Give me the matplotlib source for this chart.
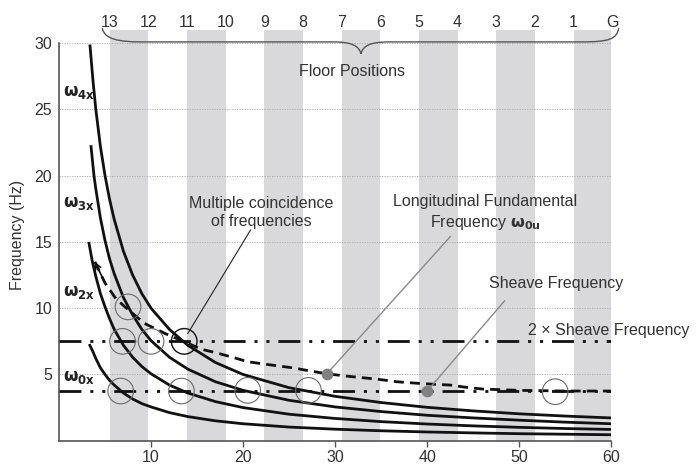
import matplotlib
matplotlib.use("Agg")
import matplotlib.pyplot as plt
from matplotlib.path import Path
from matplotlib.patches import PathPatch

plt.rcParams['font.family'] = ['Liberation Sans', 'DejaVu Sans']
plt.rcParams['mathtext.fontset'] = 'dejavusans'

TXT = '#333333'

# --- data ---
floor_labels = ['13', '12', '11', '10', '9', '8', '7', '6', '5', '4', '3', '2', '1', 'G']
floor_pos = [5.5, 9.7, 13.9, 18.1, 22.3, 26.5, 30.7, 34.9, 39.1, 43.3, 47.5, 51.7, 55.9, 60.1]

w4x_x = [3.37, 3.7, 4, 4.5, 5, 5.5, 6, 7, 8, 9, 10, 12, 14, 17, 20, 25, 30, 35, 40, 45, 50, 55, 60]
w4x_y = [29.8, 27.1, 25.0, 22.2, 20.0, 18.2, 16.7, 14.3, 12.5, 11.1, 10.0, 8.4, 7.2, 5.9, 5.0, 4.0, 3.35, 2.88, 2.52, 2.25, 2.03, 1.86, 1.72]

w3x_x = [3.48, 3.8, 4, 4.5, 5, 5.5, 6, 7, 8, 9, 10, 12, 14, 17, 20, 25, 30, 35, 40, 45, 50, 55, 60]
w3x_y = [22.2, 20.0, 19.0, 16.8, 15.1, 13.7, 12.6, 10.8, 9.5, 8.4, 7.55, 6.3, 5.4, 4.45, 3.8, 3.05, 2.55, 2.2, 1.92, 1.72, 1.55, 1.4, 1.28]

w2x_x = [3.26, 3.6, 4, 4.5, 5, 5.5, 6, 7, 8, 9, 10, 12, 14, 17, 20, 25, 30, 35, 40, 45, 50, 55, 60]
w2x_y = [14.9, 13.6, 12.4, 11.1, 10.1, 9.2, 8.4, 7.2, 6.3, 5.6, 5.05, 4.2, 3.6, 2.95, 2.5, 2.0, 1.68, 1.44, 1.26, 1.12, 1.01, 0.92, 0.85]

w0x_x = [3.35, 3.7, 4, 4.5, 5, 5.5, 6, 7, 8, 9, 10, 12, 14, 17, 20, 25, 30, 35, 40, 45, 50, 55, 60]
w0x_y = [7.2, 6.7, 6.2, 5.5, 5.0, 4.55, 4.2, 3.6, 3.15, 2.8, 2.55, 2.12, 1.82, 1.5, 1.28, 1.03, 0.87, 0.75, 0.66, 0.59, 0.53, 0.49, 0.45]

w0u_x = [3.9, 5.0, 6.2, 7.5, 9.3, 11.5, 13.5, 15.5, 17, 19.1, 20.5, 23, 25.4, 27, 29.1, 31.6, 34.5, 36.7, 39.2, 42.5, 44, 46, 50, 55, 60]
w0u_y = [13.5, 11.9, 10.7, 9.9, 8.85, 8.1, 7.5, 6.9, 6.65, 6.25, 5.96, 5.72, 5.5, 5.3, 5.05, 4.85, 4.65, 4.45, 4.32, 4.2, 4.05, 3.9, 3.8, 3.75, 3.75]

sheave = 3.75
sheave2 = 7.5

circ_x = [7.5, 6.9, 10.0, 6.7, 13.3, 20.5, 27.1, 53.9]
circ_y = [10.1, 7.5, 7.5, 3.75, 3.75, 3.8, 3.8, 3.7]
coinc_x, coinc_y = 13.6, 7.5

dot_x = [29.1, 40.0]
dot_y = [5.05, 3.75]

fig = plt.figure(figsize=(7.0, 4.68), dpi=100)
ax = fig.add_axes([0.0843, 0.0583, 0.789, 0.8776])
ax.set_xlim(0, 60)
ax.set_ylim(0, 31)

# floor bands
for i in range(0, len(floor_pos) - 1, 2):
    ax.axvspan(floor_pos[i], floor_pos[i + 1], ymin=0, ymax=1, color='#d9d9db', lw=0, zorder=0)

# dotted grid
for yv in [5, 10, 15, 20, 25, 30]:
    ax.plot([0, 60], [yv, yv], color='#a8a8a8', lw=0.6, ls=(0, (1.5, 1.5)), zorder=1)

# sheave lines
dd = (0, (7.9, 3.2, 1.1, 3.2, 1.1, 3.2))
ax.plot([0, 60], [sheave2, sheave2], color='#111111', lw=2, ls=dd, zorder=3)
ax.plot([0, 60], [sheave, sheave], color='#111111', lw=2, ls=dd, zorder=3)

# mode curves
for xs, ys in [(w4x_x, w4x_y), (w3x_x, w3x_y), (w2x_x, w2x_y), (w0x_x, w0x_y)]:
    ax.plot(xs, ys, color='#111111', lw=2, zorder=4)
ax.plot(w0u_x, w0u_y, color='#111111', lw=2, ls=(0, (3.6, 2.2)), zorder=4)
ax.annotate('', xy=(w0u_x[0], w0u_y[0]), xytext=(w0u_x[1], w0u_y[1]),
            arrowprops=dict(arrowstyle='->', color='#111111', lw=1.2, shrinkA=0, shrinkB=0), zorder=4)

# coincidence circles and markers
ax.scatter(circ_x, circ_y, s=340, facecolors='none', edgecolors='#6a6a6a', linewidths=0.8, zorder=5)
ax.scatter([coinc_x], [coinc_y], s=340, facecolors='none', edgecolors='#111111', linewidths=1.0, zorder=5)
ax.scatter(dot_x, dot_y, s=55, color='#808080', zorder=6)

# spines / ticks
for s in ['top', 'right']:
    ax.spines[s].set_visible(False)
ax.spines['left'].set_bounds(0, 30)
ax.spines['left'].set_color('#555555')
ax.spines['bottom'].set_color('#555555')
ax.spines['left'].set_linewidth(1.2)
ax.spines['bottom'].set_linewidth(1.2)
ax.set_xticks([10, 20, 30, 40, 50, 60])
ax.set_yticks([5, 10, 15, 20, 25, 30])
ax.tick_params(axis='x', length=4, width=1, color='#555555', pad=3, labelsize=11.5, labelcolor=TXT)
ax.tick_params(axis='y', length=0, pad=5, labelsize=11.5, labelcolor=TXT)
fig.text(18 / 700, 1 - 235 / 468, 'Frequency (Hz)', rotation=90, ha='center', va='center',
         fontsize=11.5, color=TXT)

# floor labels + brace
for xp, lab in zip(floor_pos, floor_labels):
    ax.text(xp, 31.6, lab, ha='center', va='center', fontsize=11.5, color=TXT, clip_on=False)
x0, x1 = floor_pos[0], floor_pos[-1]
xm = (x0 + x1) / 2
yb = 30.1
verts = [(x0 - 0.8, 31.15), (x0 - 0.6, 30.3), (x0 + 1.0, yb), (x0 + 3.5, yb),
         (xm - 3.0, yb), (xm - 1.0, yb), (xm - 0.2, 29.8), (xm, 29.2),
         (xm + 0.2, 29.8), (xm + 1.0, yb), (xm + 3.0, yb),
         (x1 - 3.5, yb), (x1 - 0.3, yb), (x1 + 0.5, 30.3), (x1 + 0.7, 31.15)]
codes = [Path.MOVETO, Path.CURVE4, Path.CURVE4, Path.CURVE4,
         Path.LINETO, Path.CURVE4, Path.CURVE4, Path.CURVE4,
         Path.CURVE4, Path.CURVE4, Path.CURVE4,
         Path.LINETO, Path.CURVE4, Path.CURVE4, Path.CURVE4]
ax.add_patch(PathPatch(Path(verts, codes), fill=False, edgecolor='#555555', lw=1.0, clip_on=False, zorder=6))
ax.text(31.8, 27.9, 'Floor Positions', ha='center', va='center', fontsize=11.5, color=TXT)

# mode labels
for yv, lab in [(26.3, '4x'), (17.9, '3x'), (11.2, '2x'), (4.8, '0x')]:
    ax.text(0.45, yv, r'$\mathbf{\omega}_{\mathbf{%s}}$' % lab, ha='left', va='center',
            fontsize=12, color='#222222')

# annotations
ax.text(22.0, 17.2, 'Multiple coincidence\nof frequencies', ha='center', va='center',
        fontsize=11.5, color=TXT, linespacing=1.25)
ax.plot([20.8, 14.0], [15.9, 8.1], color='#222222', lw=0.8, zorder=5)

ax.text(46.3, 17.2, 'Longitudinal Fundamental\nFrequency ' + r'$\mathbf{\omega}_{\mathbf{0u}}$',
        ha='center', va='center', fontsize=11.5, color=TXT, linespacing=1.25)
ax.plot([42.5, dot_x[0]], [15.4, dot_y[0]], color='#8a8a8a', lw=1.0, zorder=5)

ax.text(54.0, 11.9, 'Sheave Frequency', ha='center', va='center', fontsize=11.5, color=TXT)
ax.plot([48.4, dot_x[1]], [10.55, dot_y[1]], color='#8a8a8a', lw=1.0, zorder=5)

ax.text(50.9, 8.35, '2 \u00d7 Sheave Frequency', ha='left', va='center', fontsize=11.5,
        color=TXT, clip_on=False, zorder=7)

fig.savefig('out.png', dpi=100)
